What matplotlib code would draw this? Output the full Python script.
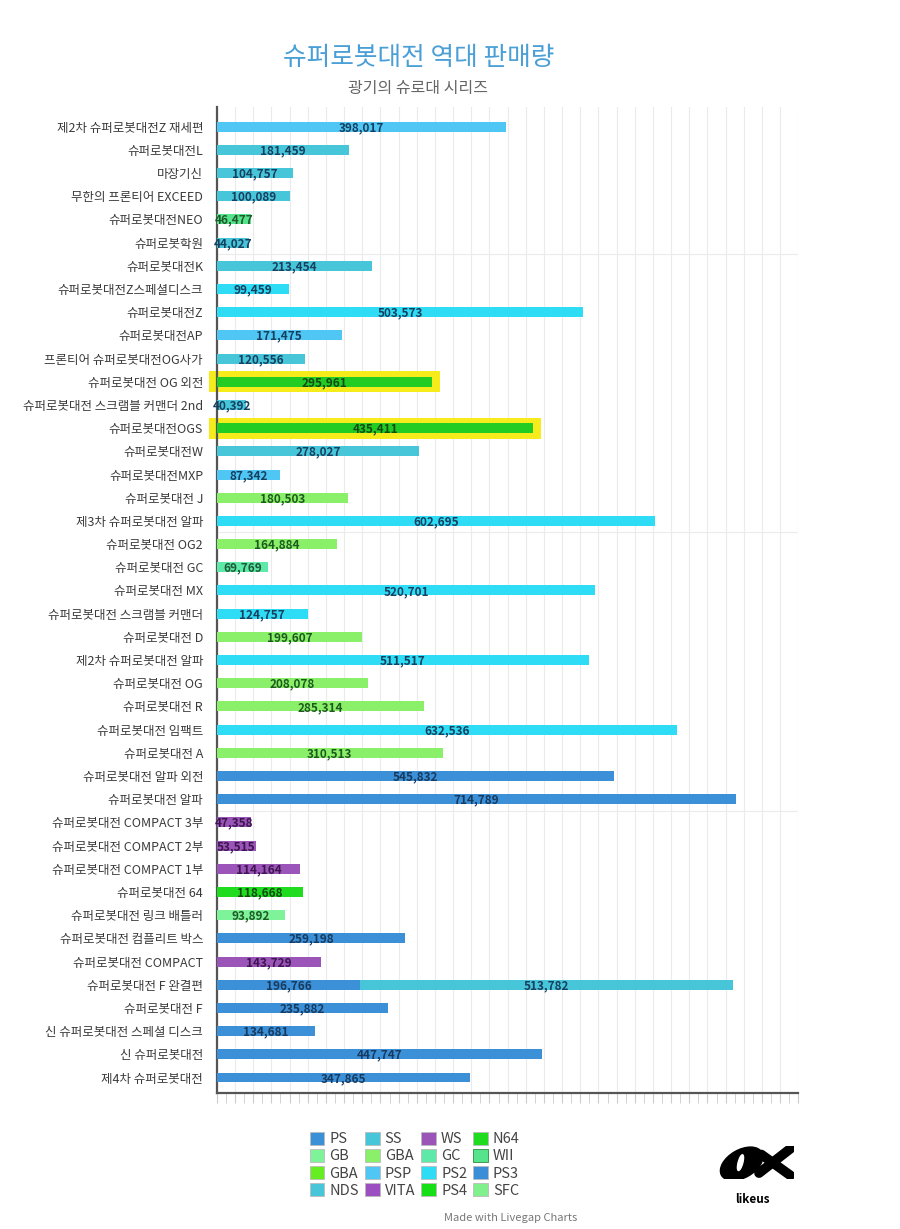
import matplotlib
matplotlib.use("Agg")
import matplotlib.pyplot as plt
from matplotlib.patches import Patch, Ellipse
from matplotlib.ticker import MultipleLocator
import numpy as np

plt.rcParams['font.family'] = ['Noto Sans CJK KR', 'DejaVu Sans']

# ---- data ----
games = [
    "제2차 슈퍼로봇대전Z 재세편", "슈퍼로봇대전L", "마장기신", "무한의 프론티어 EXCEED",
    "슈퍼로봇대전NEO", "슈퍼로봇학원", "슈퍼로봇대전K", "슈퍼로봇대전Z스페셜디스크",
    "슈퍼로봇대전Z", "슈퍼로봇대전AP", "프론티어 슈퍼로봇대전OG사가", "슈퍼로봇대전 OG 외전",
    "슈퍼로봇대전 스크램블 커맨더 2nd", "슈퍼로봇대전OGS", "슈퍼로봇대전W", "슈퍼로봇대전MXP",
    "슈퍼로봇대전 J", "제3차 슈퍼로봇대전 알파", "슈퍼로봇대전 OG2", "슈퍼로봇대전 GC",
    "슈퍼로봇대전 MX", "슈퍼로봇대전 스크램블 커맨더", "슈퍼로봇대전 D", "제2차 슈퍼로봇대전 알파",
    "슈퍼로봇대전 OG", "슈퍼로봇대전 R", "슈퍼로봇대전 임팩트", "슈퍼로봇대전 A",
    "슈퍼로봇대전 알파 외전", "슈퍼로봇대전 알파", "슈퍼로봇대전 COMPACT 3부", "슈퍼로봇대전 COMPACT 2부",
    "슈퍼로봇대전 COMPACT 1부", "슈퍼로봇대전 64", "슈퍼로봇대전 링크 배틀러", "슈퍼로봇대전 컴플리트 박스",
    "슈퍼로봇대전 COMPACT", "슈퍼로봇대전 F 완결편", "슈퍼로봇대전 F", "신 슈퍼로봇대전 스페셜 디스크",
    "신 슈퍼로봇대전", "제4차 슈퍼로봇대전",
]
sales = [
    398017, 181459, 104757, 100089, 46477, 44027, 213454, 99459,
    503573, 171475, 120556, 295961, 40392, 435411, 278027, 87342,
    180503, 602695, 164884, 69769, 520701, 124757, 199607, 511517,
    208078, 285314, 632536, 310513, 545832, 714789, 47358, 53515,
    114164, 118668, 93892, 259198, 143729, 196766, 235882, 134681,
    447747, 347865,
]
platform = [
    "PSP", "NDS", "NDS", "NDS", "WII", "NDS", "NDS", "PS2",
    "PS2", "PSP", "NDS", "PS2", "NDS", "PS3", "NDS", "PSP",
    "GBA", "PS2", "GBA", "GC", "PS2", "PS2", "GBA", "PS2",
    "GBA", "GBA", "PS2", "GBA", "PS", "PS", "WS", "WS",
    "WS", "N64", "GB", "PS", "WS", "PS", "PS", "PS",
    "PS", "PS",
]
# second stacked segment (F 완결편 on SS)
extra_game = "슈퍼로봇대전 F 완결편"
extra_sales = 513782
extra_platform = "SS"

highlighted = ["슈퍼로봇대전 OG 외전", "슈퍼로봇대전OGS"]

legend_keys = ["PS", "SS", "WS", "N64",
               "GB", "GBA", "GC", "WII",
               "GBA_2", "PSP", "PS2", "PS3",
               "NDS", "VITA", "PS4", "SFC"]
colors = {
    "PS": "#3b90d8", "SS": "#47c6da", "WS": "#9b55b8", "N64": "#1fdc1f",
    "GB": "#7ef39a", "GBA": "#8af06a", "GC": "#5ee9a8", "WII": "#55e38c",
    "GBA_2": "#66ee22", "PSP": "#4fc6f4", "PS2": "#2fdcf6", "PS3": "#3a8ed8",
    "NDS": "#47c6da", "VITA": "#9b4fc0", "PS4": "#17df17", "SFC": "#80f08c",
}
label_dark = {
    "PS": "#173a5e", "SS": "#173f5e", "WS": "#3d1650", "N64": "#154a15",
    "GB": "#1e5a24", "GBA": "#1e5a1e", "GC": "#1e5a36", "WII": "#1e5a2a",
    "PSP": "#173f5e", "PS2": "#173f5e", "PS3": "#173f5e", "NDS": "#173f5e",
}

n = len(games)
y = np.arange(n)

fig = plt.figure(figsize=(9, 12.29), dpi=100)
ax = fig.add_axes([0.241, 0.111, 0.646, 0.802])

# yellow marker behind the highlighted bars
for g in highlighted:
    i = games.index(g)
    ax.barh(i, sales[i] + 22000, left=-11000, height=0.9, color="#f6ec1c",
            zorder=2, clip_on=False)

for i in range(n):
    c = colors[platform[i]]
    lc = label_dark[platform[i]]
    if games[i] in highlighted:
        c = "#22cc22"
        lc = "#154a15"
    ax.barh(i, sales[i], height=0.43, color=c, zorder=3)
    ax.text(sales[i] / 2, i + 0.04, f"{sales[i]:,}", ha="center", va="center",
            fontsize=8.5, fontweight="bold", color=lc, zorder=4)

j = games.index(extra_game)
ax.barh(j, extra_sales, left=sales[j], height=0.43, color=colors[extra_platform], zorder=3)
ax.text(sales[j] + extra_sales / 2, j + 0.04, f"{extra_sales:,}", ha="center", va="center",
        fontsize=8.5, fontweight="bold", color=label_dark[extra_platform], zorder=4)

ax.set_xlim(0, 800000)
ax.set_ylim(41.65, -0.85)
ax.set_yticks(y)
ax.set_yticklabels(games, fontsize=9, color="#3a3a3a")
ax.tick_params(axis="y", length=0, pad=10)

ax.xaxis.set_major_locator(MultipleLocator(25000))
ax.xaxis.set_minor_locator(MultipleLocator(12500))
ax.tick_params(axis="x", which="both", length=7, color="#cccccc", labelbottom=False)
ax.grid(axis="x", which="major", color="#ebebeb", lw=0.8, zorder=0)
for h in [5.5, 17.5, 29.5]:
    ax.axhline(h, color="#ebebeb", lw=0.8, zorder=0)
ax.set_axisbelow(True)

for s in ["top", "right"]:
    ax.spines[s].set_visible(False)
for s in ["left", "bottom"]:
    ax.spines[s].set_color("#555555")
    ax.spines[s].set_linewidth(1.6)

fig.text(0.465, 0.953, "슈퍼로봇대전 역대 판매량", ha="center", va="center",
         fontsize=18.5, color="#4a9fd6")
fig.text(0.465, 0.928, "광기의 슈로대 시리즈", ha="center", va="center",
         fontsize=11.5, color="#666666")

# legend (matplotlib fills columns first)
order = [legend_keys[r * 4 + c] for c in range(4) for r in range(4)]
handles = []
for k in order:
    ec = "#2e8b3e" if k == "WII" else "#bbbbbb"
    handles.append(Patch(facecolor=colors[k], edgecolor=ec, lw=0.6, label=k.replace("_2", "")))
fig.legend(handles=handles, ncol=4, loc="upper left", bbox_to_anchor=(0.336, 0.085),
           frameon=False, fontsize=10.5, handlelength=1.0, handleheight=1.0,
           handletextpad=0.35, columnspacing=0.42, labelspacing=0.18,
           labelcolor="#444444", borderpad=0)

fig.text(0.567, 0.009, "Made with Livegap Charts", ha="center", va="center",
         fontsize=8, color="#777777")

# likeus logo
lax = fig.add_axes([0.797, 0.036, 0.085, 0.036])
lax.set_xlim(0, 66)
lax.set_ylim(0, 28)
lax.set_aspect("equal")
lax.axis("off")
lax.add_patch(Ellipse((21, 13), 40, 24, angle=30, color="black"))
lax.plot([36, 63], [5, 26], color="black", lw=7, solid_capstyle="round")
lax.plot([38, 63], [21, 3], color="black", lw=7, solid_capstyle="round")
lax.add_patch(Ellipse((20, 14), 4, 14, angle=-15, color="white"))
fig.text(0.836, 0.024, "likeus", ha="center", va="center", fontsize=8.5,
         fontweight="bold", color="black")

fig.savefig("out.png", dpi=100)
